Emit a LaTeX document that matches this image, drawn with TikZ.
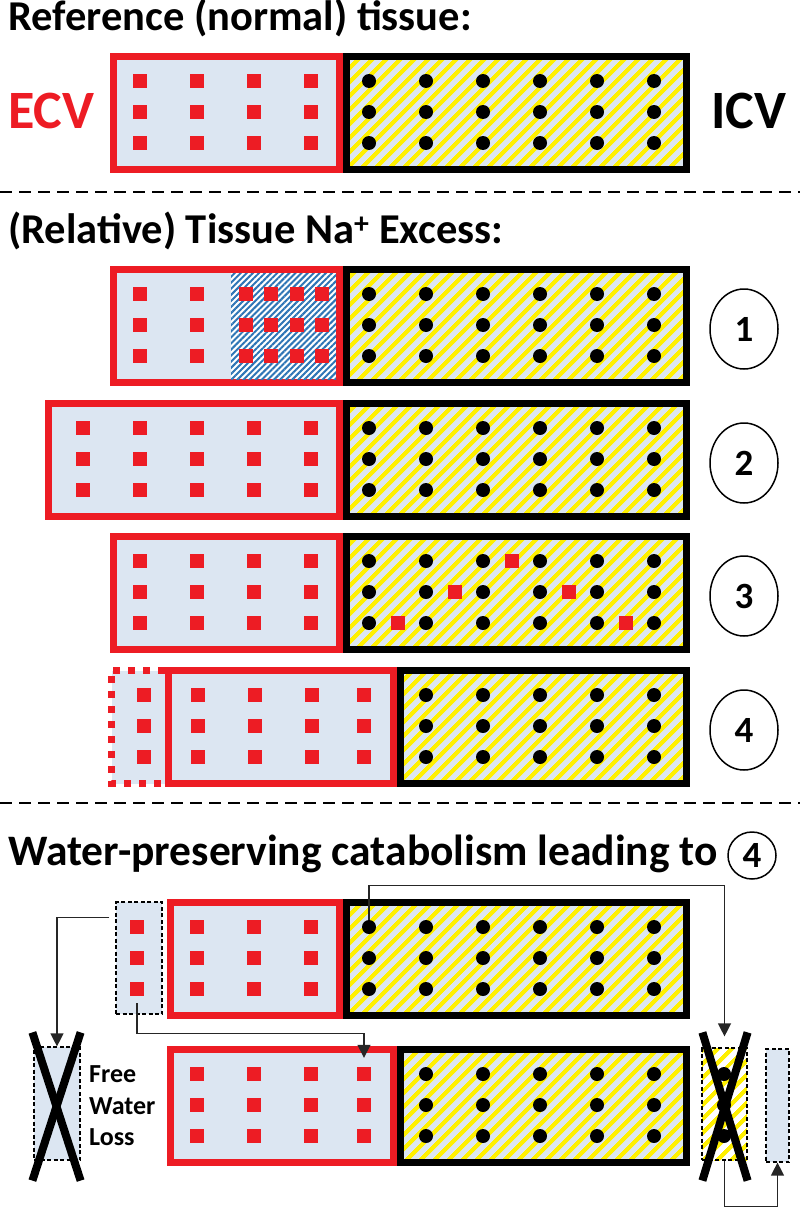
\documentclass[tikz,border=0pt]{standalone}
\usepackage{fontspec}
\setmainfont{Carlito}
\usepackage{tikz}
\usetikzlibrary{positioning, calc, shapes.geometric, arrows.meta, patterns.meta}
\definecolor{ecvred}{RGB}{237,28,36}
\definecolor{paleblue}{RGB}{220,230,242}
\definecolor{stripeyellow}{RGB}{255,240,0}
\definecolor{hatchblue}{RGB}{46,117,182}
\tikzstyle{ecv box}=[draw=ecvred, line width=7pt, fill=paleblue, inner sep=0pt, minimum height=113pt]
\tikzstyle{icv box}=[draw=black, line width=7pt, inner sep=0pt, minimum height=113pt, preaction={fill=paleblue}, pattern={Lines[angle=45,distance=10.5pt,line width=4.6pt]}, pattern color=stripeyellow]
\tikzstyle{na}=[fill=ecvred, minimum size=14pt, inner sep=0pt]
\tikzstyle{solute}=[circle, fill=black, minimum size=14pt, inner sep=0pt]
\tikzstyle{loose box}=[draw=black, line width=1.2pt, dash pattern=on 4pt off 2.5pt, inner sep=0pt]
\tikzstyle{number}=[ellipse, draw, line width=1.5pt, minimum width=68pt, minimum height=80pt, inner sep=0pt, font=\fontsize{37}{37}\selectfont\bfseries]
\tikzstyle{heading}=[anchor=base west, inner sep=0pt, font=\fontsize{42.5}{48}\selectfont\bfseries]
\tikzstyle{arrow}=[-{Triangle[width=13pt,length=13pt]}, line width=1.3pt, draw=black!85]
\tikzstyle{cross}=[line width=8pt]
\tikzstyle{separator}=[line width=2.2pt, dash pattern=on 12pt off 7pt]

\begin{document}
\begin{tikzpicture}[x=1pt, y=-1pt]
    \useasboundingbox (0,0) rectangle (800,1207);

    % reference tissue
    \node[heading] (title-ref) at (8,31) {Reference (normal) tissue:};
    \node[ecv box, minimum width=226pt] (r0-ecv) at (226.5,113) {};
    \node[icv box, minimum width=340pt] (r0-icv) at (516.5,113) {};
    \foreach \x [count=\c] in {140,197,254,311}
    \foreach \y [count=\r] in {81,112,143}
    \node[na] (r0-s-\c-\r) at (\x,\y) {};
    \foreach \x [count=\c] in {369,426,483,540,597,654}
    \foreach \y [count=\r] in {81,112,143}
    \node[solute] (r0-d-\c-\r) at (\x,\y) {};
    \node[heading, text=ecvred, font=\fontsize{54}{54}\selectfont\bfseries] (ecv-label) at (8,128) {ECV};
    \node[heading, font=\fontsize{54}{54}\selectfont\bfseries] (icv-label) at (711,128) {ICV};

    \draw[separator] (0,192) -- (800,192);

    % relative Na excess
    \node[heading] (title-excess) at (8,243) {(Relative) Tissue Na\textsuperscript{+} Excess:};

    % 1
    \node[ecv box, minimum width=226pt] (r1-ecv) at (226.5,326) {};
    \node[inner sep=0pt, minimum width=105pt, minimum height=106pt, preaction={fill=white}, pattern={Lines[angle=45,distance=4.3pt,line width=2pt]}, pattern color=hatchblue] (r1-hatch) at (283.5,326) {};
    \node[icv box, minimum width=340pt] (r1-icv) at (516.5,326) {};
    \foreach \x [count=\c] in {140,197,245.5,271,296.5,322}
    \foreach \y [count=\r] in {294,325,356}
    \node[na] (r1-s-\c-\r) at (\x,\y) {};
    \foreach \x [count=\c] in {369,426,483,540,597,654}
    \foreach \y [count=\r] in {294,325,356}
    \node[solute] (r1-d-\c-\r) at (\x,\y) {};
    \node[number] (n-1) at (744,329) {1};

    % 2
    \node[ecv box, minimum width=291pt] (r2-ecv) at (194,460) {};
    \node[icv box, minimum width=340pt] (r2-icv) at (516.5,460) {};
    \foreach \x [count=\c] in {83,140,197,254,311}
    \foreach \y [count=\r] in {428,459,490}
    \node[na] (r2-s-\c-\r) at (\x,\y) {};
    \foreach \x [count=\c] in {369,426,483,540,597,654}
    \foreach \y [count=\r] in {428,459,490}
    \node[solute] (r2-d-\c-\r) at (\x,\y) {};
    \node[number] (n-2) at (744,463) {2};

    % 3
    \node[ecv box, minimum width=226pt] (r3-ecv) at (226.5,593) {};
    \node[icv box, minimum width=340pt] (r3-icv) at (516.5,593) {};
    \foreach \x [count=\c] in {140,197,254,311}
    \foreach \y [count=\r] in {561,592,623}
    \node[na] (r3-s-\c-\r) at (\x,\y) {};
    \foreach \x [count=\c] in {369,426,483,540,597,654}
    \foreach \y [count=\r] in {561,592,623}
    \node[solute] (r3-d-\c-\r) at (\x,\y) {};
    \foreach \x/\y [count=\i] in {397.5/623,454.5/592,511.5/561,568.5/592,625.5/623}
    \node[na] (r3-in-\i) at (\x,\y) {};
    \node[number] (n-3) at (744,596) {3};

    % 4
    \node[inner sep=0pt, fill=paleblue, minimum width=53.5pt, minimum height=113pt] (r4-xtra) at (138.25,727) {};
    \draw[ecvred, line width=7pt, dash pattern=on 7pt off 8pt] (r4-xtra.north east) -- (r4-xtra.north west) -- (r4-xtra.south west) -- (r4-xtra.south east);
    \node[ecv box, minimum width=225pt] (r4-ecv) at (281,727) {};
    \node[icv box, minimum width=286pt] (r4-icv) at (543.5,727) {};
    \foreach \y [count=\r] in {695,726,757}
    \node[na] (r4-x-1-\r) at (144,\y) {};
    \foreach \x [count=\c] in {197.5,254.5,311.5,364}
    \foreach \y [count=\r] in {695,726,757}
    \node[na] (r4-s-\c-\r) at (\x,\y) {};
    \foreach \x [count=\c] in {426,483,540,597,654}
    \foreach \y [count=\r] in {695,726,757}
    \node[solute] (r4-d-\c-\r) at (\x,\y) {};
    \node[number] (n-4) at (744,730) {4};

    \draw[separator] (0,803) -- (800,803);

    % water-preserving catabolism
    \node[heading, font=\fontsize{43.5}{48}\selectfont\bfseries] (title-cat) at (8,865) {Water-preserving catabolism leading to};
    \node[number, minimum width=48pt, minimum height=47pt] (title-4) at (752,855.5) {4};

    \node[loose box, fill=paleblue, minimum width=46pt, minimum height=112pt] (a-x) at (139,958) {};
    \node[ecv box, minimum width=169pt] (a-ecv) at (255,959) {};
    \node[icv box, minimum width=340pt] (a-icv) at (516.5,959) {};
    \foreach \y [count=\r] in {927,958,989}
    \node[na] (a-x-1-\r) at (137,\y) {};
    \foreach \x [count=\c] in {197,254,311}
    \foreach \y [count=\r] in {927,958,989}
    \node[na] (a-s-\c-\r) at (\x,\y) {};
    \foreach \x [count=\c] in {369,426,483,540,597,654}
    \foreach \y [count=\r] in {927,958,989}
    \node[solute] (a-d-\c-\r) at (\x,\y) {};

    \node[loose box, fill=paleblue, minimum width=46pt, minimum height=113pt] (lost) at (57,1103.5) {};
    \node[ecv box, minimum width=223pt] (b-ecv) at (282,1106) {};
    \node[icv box, minimum width=286pt] (b-icv) at (543.5,1106) {};
    \node[loose box, pattern={Lines[angle=45,distance=10.5pt,line width=4.6pt]}, pattern color=stripeyellow, minimum width=45pt, minimum height=112pt] (gone) at (724.5,1104) {};
    \node[loose box, fill=paleblue, minimum width=23pt, minimum height=113pt] (kept) at (777.5,1105.5) {};
    \foreach \x [count=\c] in {197,254,311,364}
    \foreach \y [count=\r] in {1074,1105,1136}
    \node[na] (b-s-\c-\r) at (\x,\y) {};
    \foreach \x [count=\c] in {426,483,540,597,654}
    \foreach \y [count=\r] in {1074,1105,1136}
    \node[solute] (b-d-\c-\r) at (\x,\y) {};
    \foreach \y [count=\r] in {1074,1105,1136}
    \node[solute] (gone-d-\r) at (724,\y) {};

    \draw[cross] ($(lost.north west)+(-1,-14)$) -- ($(lost.south east)+(0,20)$);
    \draw[cross] ($(lost.north east)+(0,-14)$) -- ($(lost.south west)+(-1,20)$);
    \draw[cross] ($(gone.north west)+(1,-15)$) -- ($(gone.south east)+(0,20)$);
    \draw[cross] ($(gone.north east)+(0,-15)$) -- ($(gone.south west)+(1,20)$);

    \node[align=left, anchor=west, inner sep=0pt, font=\fontsize{26}{31.5}\selectfont\bfseries] (fwl) at (89,1106) {Free\\Water\\Loss};

    \draw[arrow] (a-d-1-1.north) -- ++(0,-34) -| ([yshift=11pt]gone.north);
    \draw[arrow] ([xshift=-6pt, yshift=-16pt]a-x.north west) -| (lost.north);
    \draw[arrow, shorten <=7pt, shorten >=9pt] (a-x-1-3.south) -- ++(0,37) -| (b-s-4-1.north);
    \draw[arrow] (gone.south) -- ++(0,46) -| (kept.south);

\end{tikzpicture}
\end{document}
